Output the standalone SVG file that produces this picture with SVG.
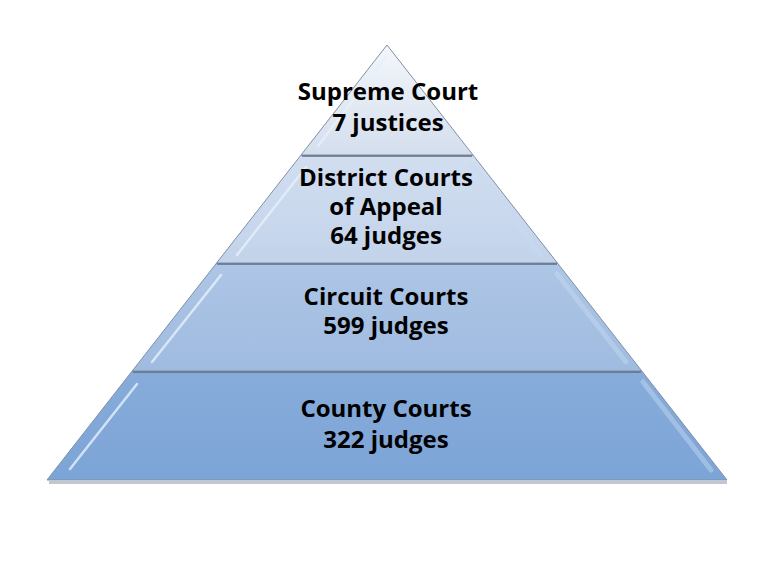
<svg xmlns="http://www.w3.org/2000/svg" width="776" height="562" viewBox="0 0 776 562">
<defs>
<linearGradient id="g1" x1="0" y1="0" x2="0" y2="1"><stop offset="0" stop-color="#f4f7fb"/><stop offset="1" stop-color="#d4deed"/></linearGradient>
<linearGradient id="g2" x1="0" y1="0" x2="0" y2="1"><stop offset="0" stop-color="#d2def0"/><stop offset="1" stop-color="#c2d3ea"/></linearGradient>
<linearGradient id="g3" x1="0" y1="0" x2="0" y2="1"><stop offset="0" stop-color="#aec6e6"/><stop offset="1" stop-color="#9fbbe0"/></linearGradient>
<linearGradient id="g4" x1="0" y1="0" x2="0" y2="1"><stop offset="0" stop-color="#87acdb"/><stop offset="1" stop-color="#7ca4d6"/></linearGradient>
</defs>
<style>
.layer{stroke:#7f90a6;stroke-width:1;stroke-linejoin:round}
.top{stroke:#5f6e80;stroke-width:2.5}
.shadow{stroke:#9aa3ad;stroke-width:3;opacity:.6}
.hl{stroke:#e6f1fc;stroke-width:2.5;stroke-linecap:round;opacity:.8}
.hr{stroke:#c8dcf3;stroke-width:5;stroke-linecap:round;opacity:.45}
.t{font-family:"Open Sans",Lato,sans-serif;font-weight:bold;font-size:24px;fill:#000;text-anchor:middle}
</style>
<rect width="776" height="562" fill="#fff"/>
<g id="shadow">
<line class="shadow" x1="49" y1="482.5" x2="727" y2="482.5"/>
</g>
<g id="county">
<polygon class="layer" points="132.2,371 641.8,371 727,480 47,480" fill="url(#g4)"/>
<line class="top" x1="133" y1="371.5" x2="641" y2="371.5"/>
<line class="hl" x1="137" y1="384" x2="70" y2="469"/>
<line class="hr" x1="643" y1="382" x2="711" y2="470"/>
<text class="t" x="386" y="417">County Courts</text>
<text class="t" x="386" y="448">322 judges</text>
</g>
<g id="circuit">
<polygon class="layer" points="216.6,263 557.4,263 641.8,371 132.2,371" fill="url(#g3)"/>
<line class="top" x1="217" y1="263.5" x2="557" y2="263.5"/>
<line class="hl" x1="221" y1="275" x2="152" y2="362" opacity=".55"/>
<line class="hr" x1="557" y1="274" x2="626" y2="362"/>
<text class="t" x="386" y="305">Circuit Courts</text>
<text class="t" x="386" y="334">599 judges</text>
</g>
<g id="district">
<polygon class="layer" points="301,155 473,155 557.4,263 216.6,263" fill="url(#g2)"/>
<line class="top" x1="302" y1="155.5" x2="472" y2="155.5"/>
<line class="hl" x1="306" y1="167" x2="237" y2="255" opacity=".65"/>
<line class="hr" x1="472" y1="166" x2="541" y2="255"/>
<text class="t" x="386" y="186">District Courts</text>
<text class="t" x="386" y="215">of Appeal</text>
<text class="t" x="386" y="244">64 judges</text>
</g>
<g id="supreme">
<polygon class="layer" points="387,45 473,155 301,155" fill="url(#g1)"/>
<line class="hl" x1="385" y1="58" x2="318" y2="146" opacity=".55"/>
<text class="t" x="388" y="100">Supreme Court</text>
<text class="t" x="388" y="131">7 justices</text>
</g>
<g id="connectors"></g>
</svg>
